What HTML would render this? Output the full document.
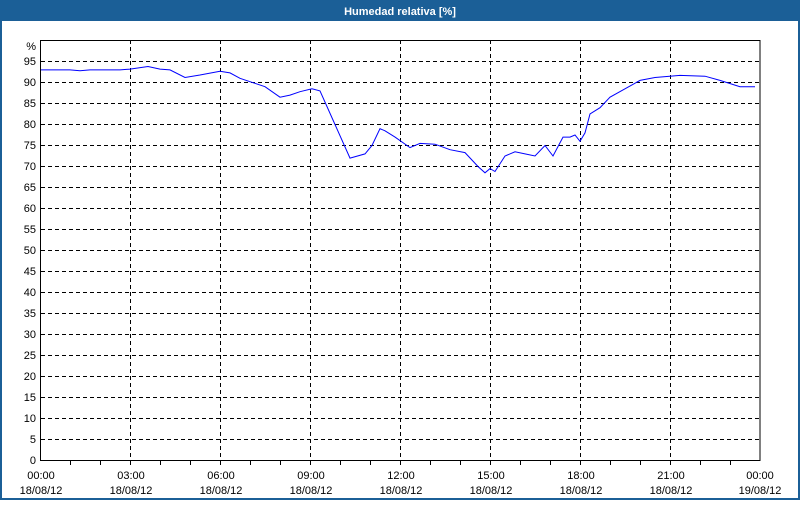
<!DOCTYPE html>
<html><head><meta charset="utf-8"><style>
html,body{margin:0;padding:0;background:#fff}
body{width:800px;height:500px;overflow:hidden;font-family:"Liberation Sans",sans-serif}
</style></head><body>
<svg width="800" height="500" xmlns="http://www.w3.org/2000/svg" font-family="Liberation Sans, sans-serif" font-size="11">
<rect x="0" y="0" width="800" height="500" fill="#1b5f97"/>
<rect x="2" y="21" width="796" height="477" fill="#fff"/>
<text x="400" y="15" fill="#fff" font-weight="bold" text-anchor="middle" font-size="11">Humedad relativa [%]</text>
<g stroke="#000" stroke-width="1" stroke-dasharray="4,3" fill="none">
<path d="M41 61.5H760M41 82.5H760M41 103.5H760M41 124.5H760M41 145.5H760M41 166.5H760M41 187.5H760M41 208.5H760M41 229.5H760M41 250.5H760M41 271.5H760M41 292.5H760M41 313.5H760M41 334.5H760M41 355.5H760M41 376.5H760M41 397.5H760M41 418.5H760M41 439.5H760"/>
<path d="M130.5 40V460M220.5 40V460M310.5 40V460M400.5 40V460M490.5 40V460M580.5 40V460M670.5 40V460"/>
</g>
<rect x="40.5" y="40.5" width="719.5" height="420" fill="none" stroke="#000"/>
<path stroke="#000" d="M70.5 461v4M100.5 461v4M130.5 461v4M160.5 461v4M190.5 461v4M220.5 461v4M250.5 461v4M280.5 461v4M310.5 461v4M340.5 461v4M370.5 461v4M400.5 461v4M430.5 461v4M460.5 461v4M490.5 461v4M520.5 461v4M550.5 461v4M580.5 461v4M610.5 461v4M640.5 461v4M670.5 461v4M700.5 461v4M730.5 461v4"/>
<g text-anchor="end" fill="#000">
<text x="36" y="50">%</text>
<text x="36" y="65">95</text><text x="36" y="86">90</text><text x="36" y="107">85</text><text x="36" y="128">80</text><text x="36" y="149">75</text><text x="36" y="170">70</text><text x="36" y="191">65</text><text x="36" y="212">60</text><text x="36" y="233">55</text><text x="36" y="254">50</text><text x="36" y="275">45</text><text x="36" y="296">40</text><text x="36" y="317">35</text><text x="36" y="338">30</text><text x="36" y="359">25</text><text x="36" y="380">20</text><text x="36" y="401">15</text><text x="36" y="422">10</text><text x="36" y="443">5</text><text x="36" y="464">0</text>
</g>
<g text-anchor="middle" fill="#000">
<text x="41" y="479">00:00</text><text x="41" y="494">18/08/12</text>
<text x="131" y="479">03:00</text><text x="131" y="494">18/08/12</text>
<text x="221" y="479">06:00</text><text x="221" y="494">18/08/12</text>
<text x="311" y="479">09:00</text><text x="311" y="494">18/08/12</text>
<text x="401" y="479">12:00</text><text x="401" y="494">18/08/12</text>
<text x="491" y="479">15:00</text><text x="491" y="494">18/08/12</text>
<text x="581" y="479">18:00</text><text x="581" y="494">18/08/12</text>
<text x="671" y="479">21:00</text><text x="671" y="494">18/08/12</text>
<text x="760" y="479">00:00</text><text x="760" y="494">19/08/12</text>
</g>
<polyline fill="none" stroke="#0000ff" stroke-width="1" points="41,69.9 70,69.9 80,70.7 90,69.9 120,69.9 130,69.1 148,66.5 160,69.1 170,69.9 185,77.5 200,75 220,71.2 230,72.9 240,78.3 265,86.7 280,97.2 290,95.1 300,91.7 312,88.8 320,90.9 335,124.5 350,158.1 365,153.9 372,145.5 380,128.7 385,130.8 395,137.1 410,147.6 420,143.4 435,144.2 450,149.7 465,152.6 478,166.5 485,172.8 490,168.6 495,171.5 505,156 515,151.8 525,153.9 535,156 545,145.5 553,156 563,137.1 570,137.1 575,135 580,141.3 585,132.9 590,114 600,107.7 610,97.2 625,88.8 640,80.4 655,77.5 680,75.4 705,76.2 720,80.4 740,86.7 755,86.7"/>
</svg>
</body></html>
